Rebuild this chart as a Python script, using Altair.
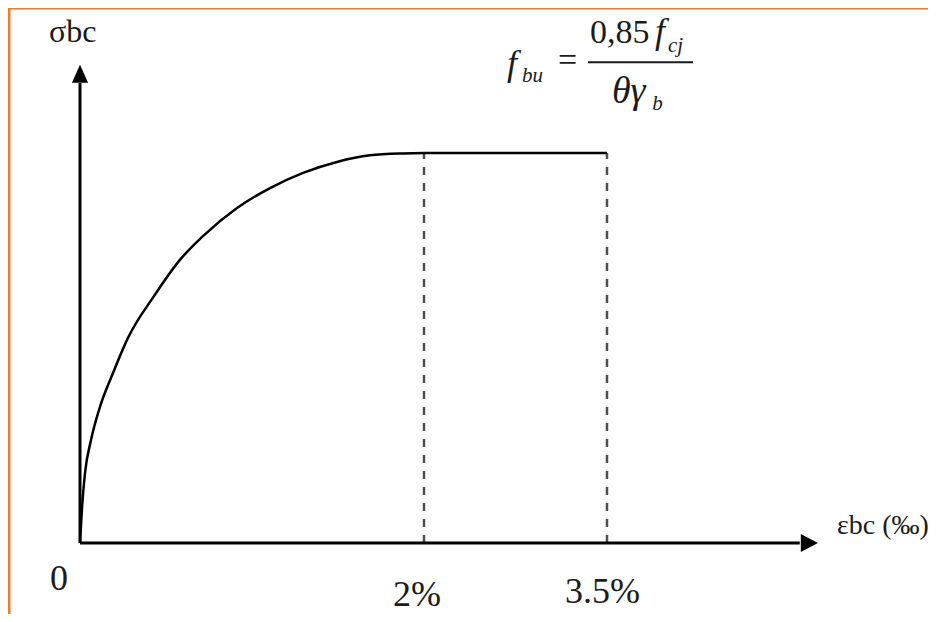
import altair as alt
import pandas as pd

# ---- data (strain in per-mille, stress as fraction of f_bu) ----
curve_strain = [0.0, 0.012, 0.029, 0.064, 0.116, 0.192, 0.279, 0.430, 0.581, 0.715,
                0.913, 1.105, 1.297, 1.494, 1.686, 1.878, 2.0, 3.5]
curve_stress = [0.0, 0.092, 0.179, 0.264, 0.349, 0.436, 0.526, 0.633, 0.726, 0.787,
                0.859, 0.910, 0.949, 0.977, 0.994, 0.999, 1.0, 1.0]
dash_strain = [2.0, 3.5]
axis_strain_end = 5.08
axis_stress_end = 1.18
arrow_strain_tip = 5.155
arrow_stress_tip = 1.203

# annotation texts and anchors (in strain / stress units)
axis_label_text = ["σbc", "εbc (‰)"]
axis_label_strain = [-0.180, 5.385]
axis_label_stress = [1.285, 0.023]

tick_text = ["0", "2%", "3.5%"]
tick_strain = [-0.174, 1.820, 3.156]
tick_stress = [-0.121, -0.162, -0.154]

f_text = ["f", "f"]
f_strain = [2.680, 3.893]
f_stress = [1.201, 1.282]

num_text = ["=", "0,85"]
num_strain = [3.098, 3.361]
num_stress = [1.209, 1.282]

den_text = ["θγ"]
den_strain = [3.540]
den_stress = [1.128]

sub_text = ["bu", "cj", "b"]
sub_strain = [2.803, 4.0, 3.870]
sub_stress = [1.182, 1.259, 1.110]

bar_strain = [3.344, 4.205]
bar_stress = 1.233

# ---- scales ----
xs = alt.Scale(domain=[0, 2, 3.5], range=[72, 416, 599])
ys = alt.Scale(domain=[0, 1], range=[535, 145])
FONT = "Liberation Serif, Times New Roman, Tinos, DejaVu Serif, serif"
INK = "#1b1b1b"


def X(f):
    return alt.X(f, type="quantitative", scale=xs, axis=None)


def Y(f):
    return alt.Y(f, type="quantitative", scale=ys, axis=None)


curve_df = pd.DataFrame({"e": curve_strain, "s": curve_stress, "i": range(len(curve_strain))})
dash_df = pd.DataFrame({"e": dash_strain, "s0": [0.0] * len(dash_strain), "s1": [1.0] * len(dash_strain)})
axes_df = pd.DataFrame({
    "e": [0.0, 0.0], "e2": [0.0, axis_strain_end],
    "s": [0.0, 0.0], "s2": [axis_stress_end, 0.0],
})
ytip_df = pd.DataFrame({"e": [0.0], "s": [arrow_stress_tip]})
xtip_df = pd.DataFrame({"e": [arrow_strain_tip], "s": [0.0]})
bar_df = pd.DataFrame({"e": [bar_strain[0]], "e2": [bar_strain[1]], "s": [bar_stress]})


def tdf(t, e, s):
    return pd.DataFrame({"t": t, "e": e, "s": s})


# border (orange frame, top and left)
border_top = alt.Chart(pd.DataFrame({"a": [0]})).mark_rule(color="#ED7D31", strokeWidth=3).encode(
    x=alt.value(0), x2=alt.value(920), y=alt.value(0)
)
border_left = alt.Chart(pd.DataFrame({"a": [0]})).mark_rule(color="#ED7D31", strokeWidth=3).encode(
    x=alt.value(1), y=alt.value(0), y2=alt.value(606)
)

axes = alt.Chart(axes_df).mark_rule(color="black", strokeWidth=3).encode(
    x=X("e"), x2="e2", y=Y("s"), y2="s2"
)
ytip = alt.Chart(ytip_df).mark_point(
    shape="M0,-1L-0.9,1L0.9,1Z", size=324, filled=True, color="black", opacity=1, strokeWidth=0
).encode(x=X("e"), y=Y("s"))
xtip = alt.Chart(xtip_df).mark_point(
    shape="M1,0L-0.9,-1L-0.9,1Z", size=324, filled=True, color="black", opacity=1, strokeWidth=0
).encode(x=X("e"), y=Y("s"))

dashes = alt.Chart(dash_df).mark_rule(color="#505050", strokeWidth=2.5, strokeDash=[8, 8]).encode(
    x=X("e"), y=Y("s0"), y2="s1"
)
curve = alt.Chart(curve_df).mark_line(color="black", strokeWidth=2.5, interpolate="monotone").encode(
    x=X("e"), y=Y("s"), order="i:Q"
)

common = dict(font=FONT, color=INK, align="left", baseline="alphabetic")
sigma_label = alt.Chart(tdf(axis_label_text[:1], axis_label_strain[:1], axis_label_stress[:1])).mark_text(
    fontSize=32, **common).encode(x=X("e"), y=Y("s"), text="t:N")
eps_label = alt.Chart(tdf(axis_label_text[1:], axis_label_strain[1:], axis_label_stress[1:])).mark_text(
    fontSize=28, **common).encode(x=X("e"), y=Y("s"), text="t:N")
ticks = alt.Chart(tdf(tick_text, tick_strain, tick_stress)).mark_text(
    fontSize=36, **common).encode(x=X("e"), y=Y("s"), text="t:N")
fs = alt.Chart(tdf(f_text, f_strain, f_stress)).mark_text(
    fontSize=36, fontStyle="italic", **common).encode(x=X("e"), y=Y("s"), text="t:N")
nums = alt.Chart(tdf(num_text, num_strain, num_stress)).mark_text(
    fontSize=34, **common).encode(x=X("e"), y=Y("s"), text="t:N")
dens = alt.Chart(tdf(den_text, den_strain, den_stress)).mark_text(
    fontSize=38, fontStyle="italic", **common).encode(x=X("e"), y=Y("s"), text="t:N")
subs = alt.Chart(tdf(sub_text, sub_strain, sub_stress)).mark_text(
    fontSize=21, fontStyle="italic", **common).encode(x=X("e"), y=Y("s"), text="t:N")
bar = alt.Chart(bar_df).mark_rule(color=INK, strokeWidth=2).encode(x=X("e"), x2="e2", y=Y("s"))

chart = alt.layer(
    border_top, border_left, dashes, axes, ytip, xtip, curve,
    sigma_label, eps_label, ticks, fs, nums, dens, subs, bar
).properties(
    width=920, height=606, padding=0, autosize=alt.AutoSizeParams(type="none"), background="white"
).configure_view(stroke=None)

chart.save("out.html", embed_options={"renderer": "svg", "actions": False})
